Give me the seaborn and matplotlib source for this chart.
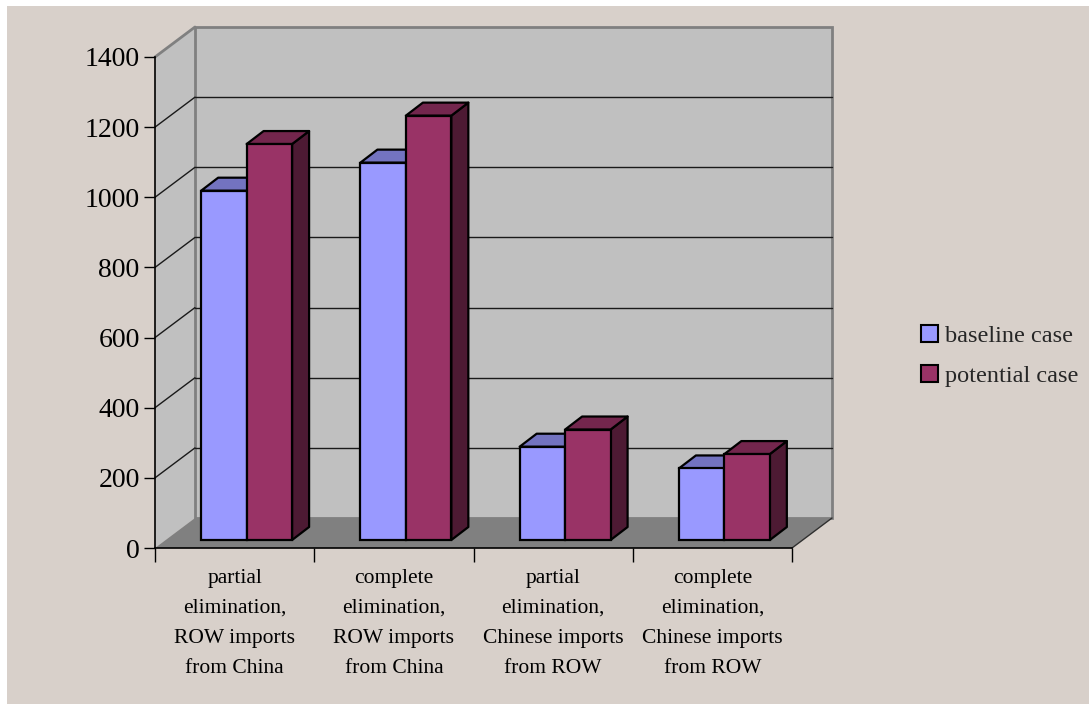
import matplotlib
matplotlib.use("Agg")
import matplotlib.pyplot as plt
import pandas as pd
import seaborn as sns
from matplotlib.patches import Polygon, Rectangle, Patch
from matplotlib.transforms import ScaledTranslation

# ---- data ---------------------------------------------------------------
categories = [
    "partial\nelimination,\nROW imports\nfrom China",
    "complete\nelimination,\nROW imports\nfrom China",
    "partial\nelimination,\nChinese imports\nfrom ROW",
    "complete\nelimination,\nChinese imports\nfrom ROW",
]
series_names = ["baseline case", "potential case"]
baseline = [996, 1076, 266, 204]
potential = [1129, 1210, 315, 245]
y_ticks = [0, 200, 400, 600, 800, 1000, 1200, 1400]

# ---- style --------------------------------------------------------------
BG = "#d8d0ca"
WALL = "#c0c0c0"
FLOOR = "#808080"
FRAME = "#808080"
FRONT = ["#9999ff", "#993366"]
TOP = ["#7373c0", "#73264d"]
SIDE = ["#5c5c99", "#4d1a33"]

W, H, DPI = 1089, 704, 100
sns.set_theme(style="ticks")
plt.rcParams["font.family"] = ["Liberation Serif", "DejaVu Serif"]

fig = plt.figure(figsize=(W / DPI, H / DPI), dpi=DPI, facecolor="white")
fig.add_artist(Rectangle((7 / W, -0.01), 1.01, 1.01 - 6 / H, transform=fig.transFigure,
                         facecolor=BG, edgecolor="none", zorder=-10))

# front plane of the 3-D box
L, R, B, T = 155, 792, 548, 57
ax = fig.add_axes([L / W, 1 - B / H, (R - L) / W, (B - T) / H])
ax.patch.set_alpha(0)

df = pd.DataFrame({
    "scenario": categories * 2,
    "value": baseline + potential,
    "case": [series_names[0]] * 4 + [series_names[1]] * 4,
})
sns.barplot(data=df, x="scenario", y="value", hue="case", hue_order=series_names,
            palette=FRONT, saturation=1, width=0.571, errorbar=None,
            edgecolor="black", linewidth=1.6, legend=False, ax=ax)
bars = list(ax.patches)

ax.set_xlim(-0.5, 3.5)
ax.set_ylim(0, 1400)
ax.set_xlabel("")
ax.set_ylabel("")

# pixel -> data unit conversion
ux = 4.0 / (R - L)
uy = 1400.0 / (B - T)
bx, by = 40 * ux, 30 * uy          # depth of the box
dx, dy = 17 * ux, 13 * uy          # depth of each bar

# walls and floor
ax.add_patch(Polygon([(-0.5, 0), (-0.5, 1400), (-0.5 + bx, 1400 + by), (-0.5 + bx, by)],
                     closed=True, facecolor=WALL, edgecolor="none", zorder=0.2, clip_on=False))
ax.add_patch(Rectangle((-0.5 + bx, by), 4, 1400, facecolor=WALL, edgecolor=FRAME,
                       linewidth=2, zorder=0.3, clip_on=False))
ax.add_patch(Polygon([(-0.5, 0), (3.5, 0), (3.5 + bx, by), (-0.5 + bx, by)],
                     closed=True, facecolor=FLOOR, edgecolor="none", zorder=0.4, clip_on=False))
ax.plot([3.5, 3.5 + bx], [0, by], color="#303030", lw=1, zorder=0.5, clip_on=False)
ax.plot([-0.5, -0.5 + bx], [1400, 1400 + by], color=FRAME, lw=2, zorder=0.5, clip_on=False)
for v in y_ticks[1:-1]:
    ax.plot([-0.5 + bx, 3.5 + bx], [v + by, v + by], color="#1a1a1a", lw=1,
            zorder=0.6, clip_on=False)
    ax.plot([-0.5, -0.5 + bx], [v, v + by], color="#1a1a1a", lw=1,
            zorder=0.6, clip_on=False)

# bars sit a little behind the front plane; add their top and side faces
plane = ax.transData + ScaledTranslation(12 / DPI, 8 / DPI, fig.dpi_scale_trans)
n = len(categories)
for i, bar in enumerate(bars):
    s = i // n
    x0, w, h = bar.get_x(), bar.get_width(), bar.get_height()
    z = 3 + s
    bar.set_transform(plane)
    bar.set_zorder(z + 0.5)
    bar.set_clip_on(False)
    top = Polygon([(x0, h), (x0 + w, h), (x0 + w + dx, h + dy), (x0 + dx, h + dy)],
                  closed=True, facecolor=TOP[s], edgecolor="black", linewidth=1.6,
                  transform=plane, zorder=z, clip_on=False, joinstyle="round")
    side = Polygon([(x0 + w, 0), (x0 + w, h), (x0 + w + dx, h + dy), (x0 + w + dx, dy)],
                   closed=True, facecolor=SIDE[s], edgecolor="black", linewidth=1.6,
                   transform=plane, zorder=z, clip_on=False, joinstyle="round")
    ax.add_patch(side)
    ax.add_patch(top)

# axes, ticks and labels
for sp in ["top", "right"]:
    ax.spines[sp].set_visible(False)
for sp in ["left", "bottom"]:
    ax.spines[sp].set_color("black")
    ax.spines[sp].set_linewidth(1.2)
    ax.spines[sp].set_zorder(2)

ax.set_yticks(y_ticks)
ax.set_yticklabels([str(v) for v in y_ticks])
ax.tick_params(axis="y", length=8, width=1, color="black", pad=3, labelsize=20,
               labelcolor="black", left=True)

ax.set_xticks([-0.5, 0.5, 1.5, 2.5, 3.5])
ax.set_xticklabels([""] * 5)
ax.set_xticks(range(n), minor=True)
ax.set_xticklabels(categories, minor=True)
ax.tick_params(axis="x", which="major", length=10, width=1, color="black", bottom=True)
ax.tick_params(axis="x", which="minor", length=0, pad=15, labelsize=15.5, labelcolor="black")
for lbl in ax.get_xticklabels(minor=True):
    lbl.set_linespacing(1.8)

handles = [Patch(facecolor=c, edgecolor="black", linewidth=1.5) for c in FRONT]
ax.legend(handles, series_names, loc="upper left",
          bbox_to_anchor=(921 / W, 1 - 325 / H), bbox_transform=fig.transFigure,
          frameon=False, fontsize=17.5, handlelength=0.7, handleheight=0.7,
          handletextpad=0.3, labelspacing=0.75, borderpad=0, borderaxespad=0)

fig.savefig("out.png", dpi=DPI, facecolor="white")
